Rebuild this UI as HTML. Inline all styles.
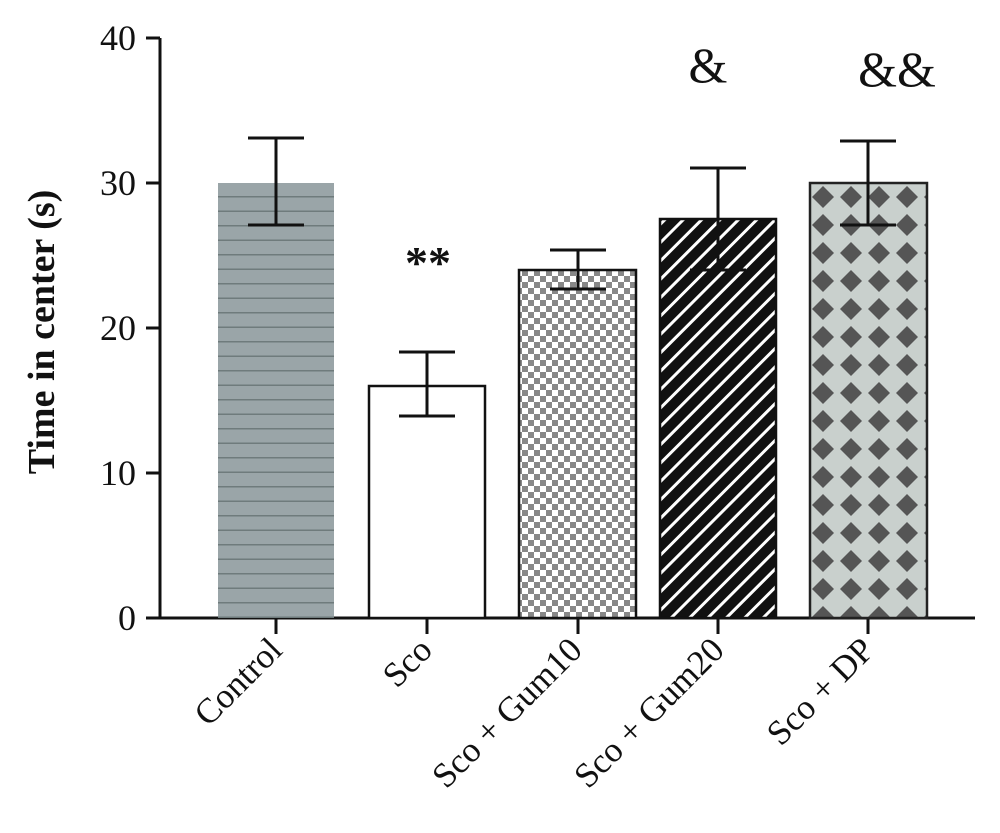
<!DOCTYPE html><html><head><style>body{margin:0;background:#fff}</style></head><body>
<svg width="1000" height="828" xmlns="http://www.w3.org/2000/svg" font-family="Liberation Serif, serif">
<defs>
<pattern id="hl" width="10" height="14.5" patternUnits="userSpaceOnUse" y="183"><rect width="10" height="14.5" fill="#9aa5a8"/><rect y="13" width="10" height="2" fill="#6f7b7c"/></pattern>
<pattern id="ck" width="12" height="12" patternUnits="userSpaceOnUse"><rect width="12" height="12" fill="#fff"/><rect width="6" height="6" fill="#888"/><rect x="6" y="6" width="6" height="6" fill="#888"/></pattern>
<pattern id="dg" width="13" height="13" patternUnits="userSpaceOnUse" patternTransform="rotate(45)"><rect width="13" height="13" fill="#111"/><rect width="3" height="13" fill="#fff"/></pattern>
<pattern id="dm" width="28" height="28" patternUnits="userSpaceOnUse" x="809" y="183"><rect width="28" height="28" fill="#c9d0cd"/><polygon points="14,3 25,14 14,25 3,14" fill="#555"/></pattern>
</defs>
<g stroke="#111" stroke-width="3" fill="none">
<path d="M160,38V618H975"/>
<path d="M146,38H160M146,183H160M146,328H160M146,473H160M146,618H160"/>
<path d="M276,618V634M427,618V634M578,618V634M718,618V634M868,618V634"/>
</g>
<rect x="218" y="183" width="116" height="435" fill="url(#hl)"/>
<rect x="369" y="386" width="116" height="232" fill="#fff" stroke="#111" stroke-width="2.5"/>
<rect x="519" y="270" width="117" height="348" fill="url(#ck)" stroke="#111" stroke-width="2.5"/>
<rect x="660" y="219" width="116" height="399" fill="url(#dg)" stroke="#111" stroke-width="2.5"/>
<rect x="810" y="183" width="117" height="435" fill="url(#dm)" stroke="#222" stroke-width="2.5"/>
<g stroke="#111" stroke-width="3">
<path d="M276,225V138M248,138H304M248,225H304"/>
<path d="M427,416V352M399,352H455M399,416H455"/>
<path d="M578,289V250M550,250H606M550,289H606"/>
<path d="M718,270V168M690,168H746M690,270H746"/>
<path d="M868,225V141M840,141H896M840,225H896"/>
</g>
<g font-size="36" text-anchor="end" fill="#111">
<text x="136" y="50">40</text><text x="136" y="195">30</text><text x="136" y="340">20</text><text x="136" y="485">10</text><text x="136" y="630">0</text>
</g>
<text transform="translate(54,332) rotate(-90)" text-anchor="middle" font-size="38" font-weight="bold" fill="#111">Time in center (s)</text>
<text x="428" y="278" text-anchor="middle" font-size="46" font-weight="bold" fill="#111">**</text>
<text x="708" y="82" text-anchor="middle" font-size="50" fill="#111">&amp;</text>
<text x="897" y="86" text-anchor="middle" font-size="50" fill="#111">&amp;&amp;</text>
<g font-size="35" text-anchor="end" fill="#111">
<text transform="translate(284,652) rotate(-45)">Control</text>
<text transform="translate(434,652) rotate(-45)">Sco</text>
<text transform="translate(584,652) rotate(-45)">Sco + Gum10</text>
<text transform="translate(726,652) rotate(-45)">Sco + Gum20</text>
<text transform="translate(876,652) rotate(-45)">Sco + DP</text>
</g>
</svg>
</body></html>
